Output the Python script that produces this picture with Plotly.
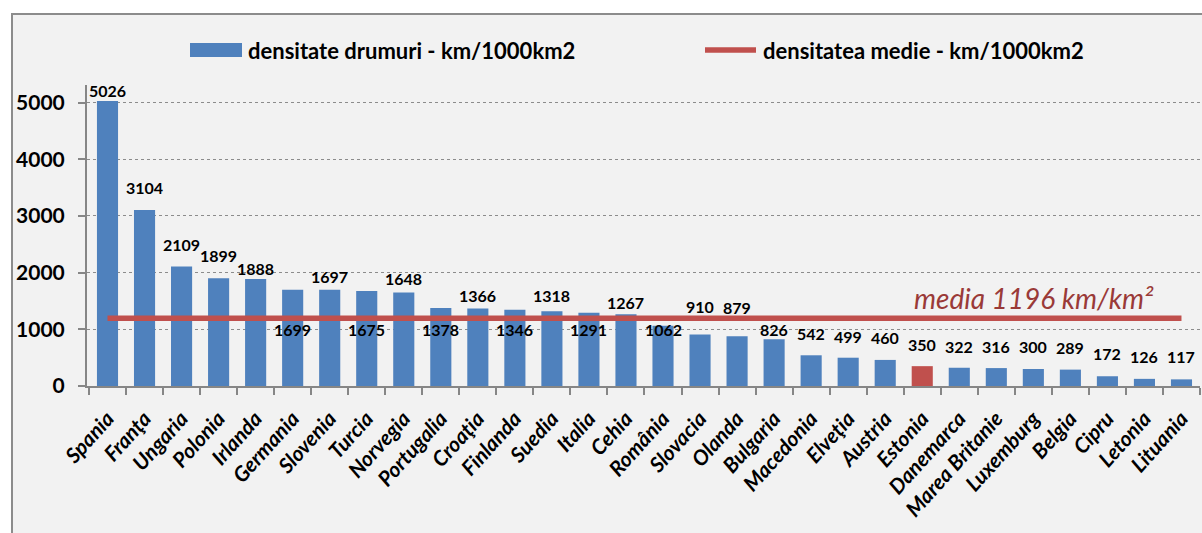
import plotly.graph_objects as go

# ---------------- data ----------------
countries = ["Spania", "Franţa", "Ungaria", "Polonia", "Irlanda", "Germania", "Slovenia",
             "Turcia", "Norvegia", "Portugalia", "Croaţia", "Finlanda", "Suedia", "Italia",
             "Cehia", "România", "Slovacia", "Olanda", "Bulgaria", "Macedonia", "Elveţia",
             "Austria", "Estonia", "Danemarca", "Marea Britanie", "Luxemburg", "Belgia",
             "Cipru", "Letonia", "Lituania"]
density = [5026, 3104, 2109, 1899, 1888, 1699, 1697, 1675, 1648, 1378, 1366, 1346, 1318,
           1291, 1267, 1062, 910, 879, 826, 542, 499, 460, 350, 322, 316, 300, 289, 172,
           126, 117]
average = 1196
highlight = "Estonia"
y_ticks = [0, 1000, 2000, 3000, 4000, 5000]
series_bar_name = "densitate drumuri - km/1000km2"
series_line_name = "densitatea medie - km/1000km2"
avg_text = "media 1196 km/km²"

# ---------------- style / layout ----------------
BLUE = "#4F81BD"
RED = "#C0504D"
FONT = "Lato"
W, H = 1202, 533
ML, MR, MT, MB = 87, 2, 85, 147
PW, PH = W - ML - MR, H - MT - MB

# label vertical offsets in pixels above bar top (None -> placed just under the average line)
label_shift = [11, 23, 22, 23, 10, None, 13, None, 14, None, 13, None, 16, None, 12, None,
               28, 29, 10, 22, 21, 22, 22, 21, 22, 22, 22, 23, 22, 23]


def px2x(px):
    return (px - ML) / PW


def px2y(py):
    return (H - MB - py) / PH


colors = [RED if c == highlight else BLUE for c in countries]

fig = go.Figure()
fig.add_trace(go.Bar(x=countries, y=density, marker=dict(color=colors, line=dict(width=0)),
                     name=series_bar_name, showlegend=False, hoverinfo="x+y"))
fig.add_trace(go.Scatter(x=countries, y=[average] * len(countries), mode="lines",
                         line=dict(color=RED, width=5.5), name=series_line_name,
                         showlegend=False))

label_font = dict(family=FONT, size=16, color="black", weight="bold")
annotations = []
for c, v, s in zip(countries, density, label_shift):
    if s is None:
        annotations.append(dict(x=c, y=average, yshift=-11, text=str(v), showarrow=False,
                                xanchor="center", yanchor="middle", font=label_font))
    else:
        annotations.append(dict(x=c, y=v, yshift=s, text=str(v), showarrow=False,
                                xanchor="center", yanchor="middle", font=label_font))

# average annotation
annotations.append(dict(x=px2x(1034), y=px2y(298), xref="paper", yref="paper", text=avg_text,
                        showarrow=False, xanchor="center", yanchor="middle",
                        font=dict(family=FONT, size=28, color="#9A3A38", style="italic")))

# manual legend
legend_font = dict(family=FONT, size=22, color="black", weight="bold")
annotations.append(dict(x=px2x(246), y=px2y(50), xref="paper", yref="paper",
                        text=series_bar_name, showarrow=False, xanchor="left", yanchor="middle",
                        font=legend_font))
annotations.append(dict(x=px2x(761), y=px2y(50), xref="paper", yref="paper",
                        text=series_line_name, showarrow=False, xanchor="left", yanchor="middle",
                        font=legend_font))

shapes = [
    # chart area frame
    dict(type="rect", xref="paper", yref="paper", x0=px2x(12), x1=px2x(1215), y0=px2y(548),
         y1=px2y(14), fillcolor="#F2F2F2", line=dict(color="#8C8C8C", width=2), layer="below"),
    # legend symbols
    dict(type="rect", xref="paper", yref="paper", x0=px2x(190), x1=px2x(242), y0=px2y(57),
         y1=px2y(43), fillcolor=BLUE, line=dict(width=0)),
    dict(type="line", xref="paper", yref="paper", x0=px2x(705), x1=px2x(756), y0=px2y(50),
         y1=px2y(50), line=dict(color=RED, width=5.5)),
]

fig.update_layout(
    width=W, height=H,
    margin=dict(l=ML, r=MR, t=MT, b=MB, pad=0),
    paper_bgcolor="white",
    plot_bgcolor="rgba(0,0,0,0)",
    bargap=0.43,
    showlegend=False,
    annotations=annotations,
    shapes=shapes,
    font=dict(family=FONT, color="black"),
)
fig.update_xaxes(
    type="category", tickangle=-48, showgrid=False,
    showline=True, linecolor="#868686", linewidth=2,
    ticks="outside", tickson="boundaries", ticklen=7, tickwidth=2, tickcolor="#868686",
    ticklabelstandoff=10,
    tickfont=dict(family=FONT, size=21, color="black", weight="bold", style="italic"),
)
fig.update_yaxes(
    range=[0, 5310], tickvals=y_ticks, ticktext=[str(t) for t in y_ticks],
    showgrid=True, gridcolor="#8C8C8C", griddash="dot", gridwidth=1,
    zeroline=False, showline=True, linecolor="#868686", linewidth=2,
    ticks="outside", ticklen=7, tickwidth=2, tickcolor="#868686",
    ticklabelstandoff=9,
    tickfont=dict(family=FONT, size=21, color="black", weight="bold"),
)

fig.write_html("out.html", config={"displayModeBar": False},
               post_script="document.body.style.margin='0px';")
